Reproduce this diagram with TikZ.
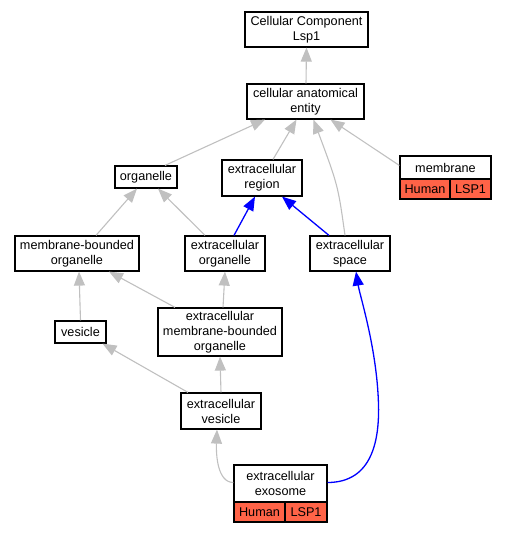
\documentclass[tikz,border=0pt]{standalone}
\usepackage{fontspec}
\setmainfont{Liberation Sans}
\usetikzlibrary{arrows.meta}
\definecolor{edgegray}{RGB}{192,192,192}
\definecolor{tomatofill}{RGB}{255,99,71}
\begin{document}
\begin{tikzpicture}[x=1pt,y=-1pt,
  box/.style={draw=black,line width=1.2pt,fill=white,inner sep=0pt,align=center,
    font=\fontsize{12.66}{15}\selectfont},
  cell/.style={box,fill=tomatofill},
  gedge/.style={draw=edgegray,line width=1.1pt,-{Triangle[length=14pt,width=11pt]}},
  bedge/.style={draw=blue,line width=1.3pt,-{Triangle[length=14pt,width=11pt]}}]
\useasboundingbox (0,0) rectangle (507,533);
% nodes
\node[box,minimum width=123pt,minimum height=35pt] (ccl) at (306.5,29.5) {Cellular Component\\Lsp1};
\node[box,minimum width=117pt,minimum height=35pt] (cae) at (305.5,101.5) {cellular anatomical\\entity};
\node[box,minimum width=62pt,minimum height=22pt] (org) at (146,177) {organelle};
\node[box,minimum width=80pt,minimum height=36pt] (er) at (262,178) {extracellular\\region};
\node[box,minimum width=91pt,minimum height=23pt] (mem) at (445.5,167.5) {membrane};
\node[cell,minimum width=50pt,minimum height=20pt] (memh) at (425,189) {Human};
\node[cell,minimum width=41pt,minimum height=20pt] (meml) at (470.5,189) {LSP1};
\node[box,minimum width=124pt,minimum height=35pt] (mbo) at (77,253.5) {membrane-bounded\\organelle};
\node[box,minimum width=80pt,minimum height=35pt] (eo) at (225,253.5) {extracellular\\organelle};
\node[box,minimum width=80pt,minimum height=35pt] (es) at (350,253.5) {extracellular\\space};
\node[box,minimum width=51pt,minimum height=22pt] (ves) at (80.5,332) {vesicle};
\node[box,minimum width=124pt,minimum height=48pt] (embo) at (220,332) {extracellular\\membrane-bounded\\organelle};
\node[box,minimum width=80pt,minimum height=36pt] (ev) at (221,411) {extracellular\\vesicle};
\node[box,minimum width=93pt,minimum height=37pt] (exo) at (280.5,483.5) {extracellular\\exosome};
\node[cell,minimum width=51pt,minimum height=20pt] (exoh) at (259.5,512) {Human};
\node[cell,minimum width=42pt,minimum height=20pt] (exol) at (306,512) {LSP1};
% edges
\draw[gedge] ([xshift=0.5pt]cae.north) -- (ccl.south);
\draw[gedge] ([xshift=19pt]org.north) -- ([xshift=-40.5pt]cae.south);
\draw[gedge] ([xshift=11pt]er.north) -- ([xshift=-9pt]cae.south);
\draw[gedge] ([xshift=-5pt]es.north) .. controls ([xshift=-12pt,yshift=50pt]es.north) .. ([xshift=8pt]cae.south);
\draw[gedge] ([yshift=2pt]mem.west) -- ([xshift=25pt]cae.south);
\draw[gedge] ([xshift=19pt]mbo.north) -- ([xshift=-9pt]org.south);
\draw[gedge] ([xshift=-20pt]eo.north) -- ([xshift=12pt]org.south);
\draw[bedge] ([xshift=9pt]eo.north) -- ([xshift=-7pt]er.south);
\draw[bedge] ([xshift=-21pt]es.north) -- ([xshift=20pt]er.south);
\draw[gedge] (ves.north) -- ([xshift=2pt]mbo.south);
\draw[gedge] ([xshift=-45pt]embo.north) -- ([xshift=32pt]mbo.south);
\draw[gedge] ([xshift=3pt]embo.north) -- (eo.south);
\draw[gedge] ([xshift=-33pt]ev.north) -- ([xshift=22pt]ves.south);
\draw[gedge] (ev.north) -- (embo.south);
\draw[gedge] ([yshift=1pt]exo.west) .. controls ([xshift=-16pt,yshift=1pt]exo.west) and ([xshift=-5pt,yshift=-25pt]ev.south) .. ([xshift=-4pt]ev.south);
\draw[bedge] ([yshift=1pt]exo.east) .. controls ([xshift=45pt,yshift=1pt]exo.east) and ([xshift=51pt,yshift=25pt]exo.north east) .. ([xshift=51pt,yshift=55pt]exo.north east)
  .. controls ([xshift=28pt,yshift=-80pt]es.south) and ([xshift=10pt,yshift=-25pt]es.south) .. ([xshift=6pt]es.south);
\end{tikzpicture}
\end{document}
